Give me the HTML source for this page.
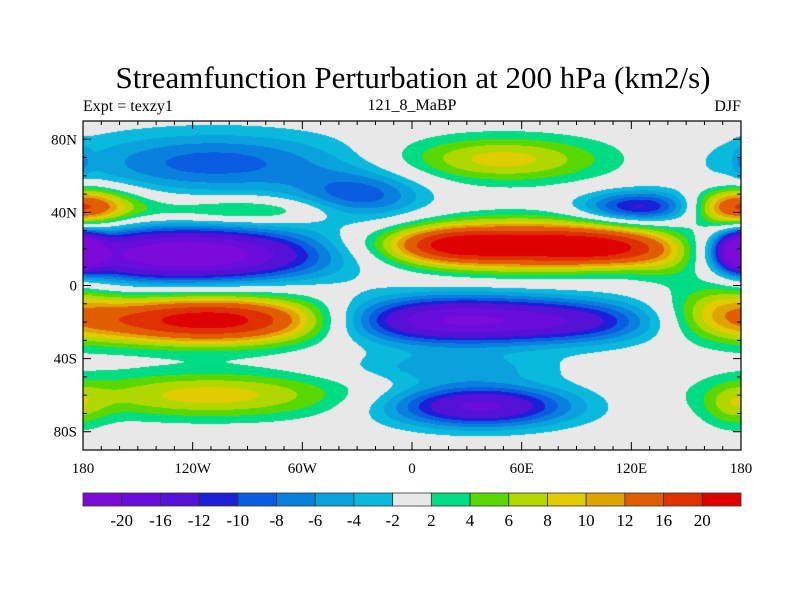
<!DOCTYPE html>
<html><head><meta charset="utf-8"><style>
body{margin:0;background:#fff;}
#wrap{position:relative;width:800px;height:600px;font-family:"Liberation Serif",serif;color:#000;}
.t{position:absolute;white-space:nowrap;}
</style></head><body>
<div id="wrap">
<div class="t" style="left:0;width:826px;text-align:center;top:60px;font-size:31px;">Streamfunction Perturbation at 200 hPa (km2/s)</div>
<div class="t" style="left:83px;top:98px;font-size:16px;">Expt = texzy1</div>
<div class="t" style="left:312px;width:200px;text-align:center;top:97px;font-size:16px;">121_8_MaBP</div>
<div class="t" style="right:59px;top:98px;font-size:16px;">DJF</div>
<canvas id="cv" width="658" height="329" style="position:absolute;left:83px;top:121px;"></canvas>
<svg id="ov" width="800" height="600" style="position:absolute;left:0;top:0;"></svg>
</div>
<script>
// field blobs (lon, lat, amplitude, lon half-width, lat half-width)
const blobLon = [-108, -28, -176, 177, -90, -125, 179, 65, 20, 110, -105, 20, -110, 37, 48, 125, 170, 176, 180, 20, 100, 145];
const blobLat = [67, 48, 44, 42, 41, 17, 19, 22, 22, 20, -19, -19, -60, -66, 69, 43, -12, -66, 68, -45, -20, 12];
const blobAmp = [-9, -9, 9, 9, 6, -25, -22, 23, 8, 8, 24, -22, 9, -17, 9, -13, 6, 5, -3, -5, -6, 6];
const blobWLon = [55, 25, 22, 15, 40, 55, 8, 55, 20, 25, 55, 55, 55, 35, 42, 22, 20, 12, 3, 40, 30, 20];
const blobWLat = [12, 10, 7, 7, 5, 10, 7, 9, 6, 6, 9, 9, 9, 8, 9, 6, 12, 9, 6, 6, 8, 8];
const levels = [-20,-16,-12,-10,-8,-6,-4,-2,2,4,6,8,10,12,16,20];
const levelLabels = ["-20","-16","-12","-10","-8","-6","-4","-2","2","4","6","8","10","12","16","20"];
const colors = ["#7c0bda","#6a0ddc","#5511d8","#1c1fd6","#0a5de0","#0a80de","#0aa2dc","#0abadc","#e8e8e8","#00dc84","#58d800","#b0d800","#e0cc00","#e0a400","#e05e00","#df3000","#df0000"];
const lonTicks = [-180,-120,-60,0,60,120,180];
const lonTickLabels = ["180","120W","60W","0","60E","120E","180"];
const latTicks = [80,40,0,-40,-80];
const latTickLabels = ["80N","40N","0","40S","80S"];

const X0=83,X1=741,Y0=121,Y1=450;
const xOf=lon=>X0+(lon+180)/360*(X1-X0);
const yOf=lat=>Y0+(90-lat)/180*(Y1-Y0);
function field(lon,lat){
  let v=0;
  for(let i=0;i<blobLon.length;i++){
    let d=lon-blobLon[i]; d=((d+540)%360)-180;
    const a=d/blobWLon[i], b=(lat-blobLat[i])/blobWLat[i];
    v+=blobAmp[i]*Math.exp(-(a*a+b*b)/2);
  }
  return v;
}
function colorIdx(v){let k=0;while(k<levels.length&&v>=levels[k])k++;return k;}
const rgb=colors.map(c=>[1,3,5].map(i=>parseInt(c.substr(i,2),16)));
const cv=document.getElementById('cv'),ctx=cv.getContext('2d');
const W=cv.width,H=cv.height,img=ctx.createImageData(W,H);
for(let py=0;py<H;py++){const lat=90-(py+0.5)/H*180;
 for(let px=0;px<W;px++){const lon=-180+(px+0.5)/W*360;
  const c=rgb[colorIdx(field(lon,lat))],o=(py*W+px)*4;
  img.data[o]=c[0];img.data[o+1]=c[1];img.data[o+2]=c[2];img.data[o+3]=255;}}
ctx.putImageData(img,0,0);

const NS='http://www.w3.org/2000/svg',svg=document.getElementById('ov');
function mk(tag,attrs,parent){const e=document.createElementNS(NS,tag);for(const k in attrs)e.setAttribute(k,attrs[k]);(parent||svg).appendChild(e);return e;}
const frame=mk('rect',{x:X0,y:Y0,width:X1-X0,height:Y1-Y0,fill:'none',stroke:'#000','stroke-width':1.2});


for(let lon=-180;lon<=180;lon+=10){const x=xOf(lon),L=lonTicks.includes(lon)?8:4;
 mk('line',{x1:x,x2:x,y1:Y1,y2:Y1-L,stroke:'#000'});mk('line',{x1:x,x2:x,y1:Y0,y2:Y0+L,stroke:'#000'});}
for(let lat=-90;lat<=90;lat+=10){const y=yOf(lat),L=latTicks.includes(lat)?8:4;
 mk('line',{x1:X0,x2:X0+L,y1:y,y2:y,stroke:'#000'});mk('line',{x1:X1,x2:X1-L,y1:y,y2:y,stroke:'#000'});}
lonTicks.forEach((lon,i)=>{const t=mk('text',{x:xOf(lon),y:Y1+23,'text-anchor':'middle','font-size':15,'font-family':'Liberation Serif, serif'});
 t.textContent=lonTickLabels[i];
 
 });
latTicks.forEach((lat,i)=>{const t=mk('text',{x:X0-6,y:yOf(lat)+5,'text-anchor':'end','font-size':15,'font-family':'Liberation Serif, serif'});
 t.textContent=latTickLabels[i];
 
 });
const CB0=83,CB1=741,CBy=493,CBh=13,bw=(CB1-CB0)/colors.length;
colors.forEach((c,i)=>{const r=mk('rect',{x:CB0+i*bw,y:CBy,width:bw,height:CBh,fill:c,stroke:'#333','stroke-width':0.8});
 
 });
levelLabels.forEach((s,i)=>{const t=mk('text',{x:CB0+(i+1)*bw,y:CBy+CBh+20,'text-anchor':'middle','font-size':17,'font-family':'Liberation Serif, serif'});
 t.textContent=s;
 
 });
</script>
</body></html>
